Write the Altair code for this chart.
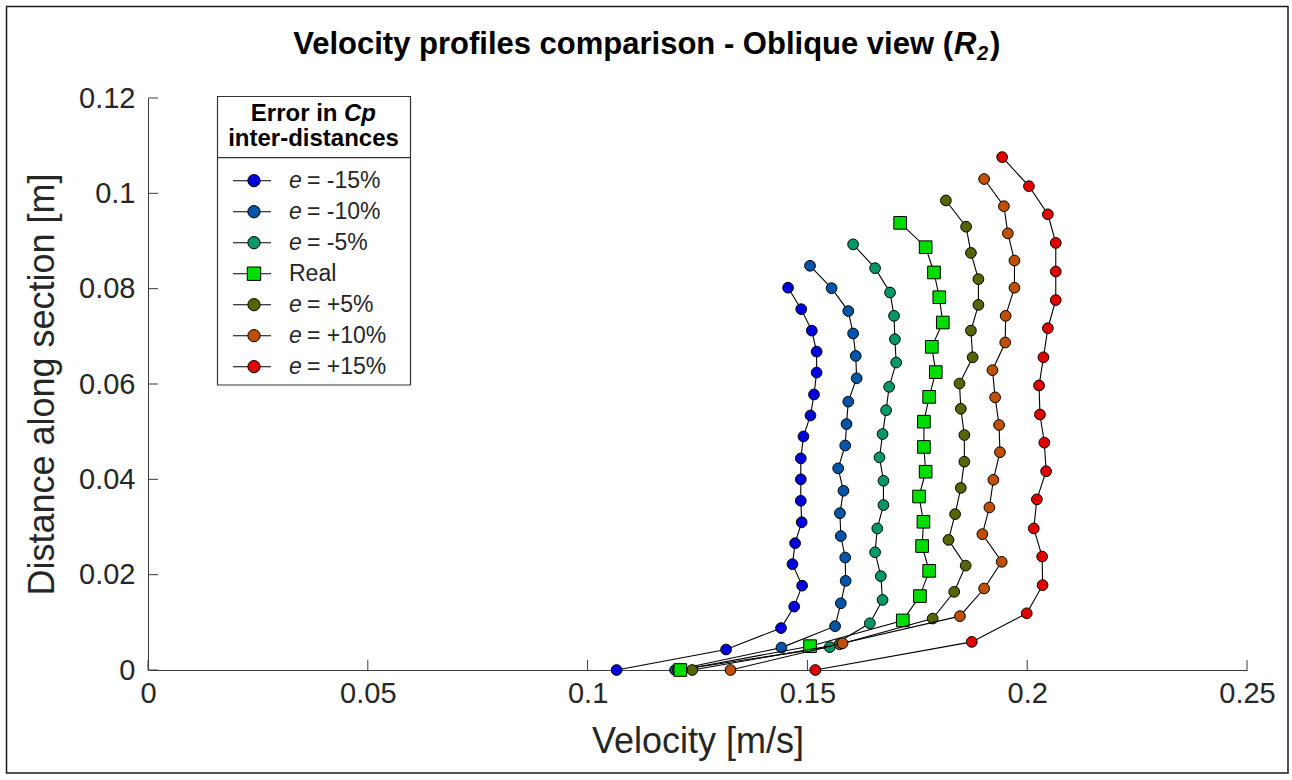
import altair as alt
import pandas as pd

# Series shown in the chart (legend order)
series_names = ["-15%", "-10%", "-5%", "Real", "+5%", "+10%", "+15%"]
legend_suffix = ["= -15%", "= -10%", "= -5%", "Real", "= +5%", "= +10%", "= +15%"]
series_colors = ["#0000dc", "#0055a8", "#009966", "#00dd00", "#556600", "#c05000", "#e00000"]
series_shapes = ["circle", "circle", "circle", "square", "circle", "circle", "circle"]

# Velocity [m/s] and distance along the section [m] for each profile
vel_m15 = [0.1066, 0.1315, 0.1440, 0.1470, 0.1488, 0.1466, 0.1472, 0.1487, 0.1485, 0.1485,
           0.1485, 0.1491, 0.1507, 0.1515, 0.1521, 0.1521, 0.1510, 0.1486, 0.1456]
dist_m15 = [0.0, 0.0043, 0.0088, 0.0133, 0.0177, 0.0222, 0.0266, 0.0310, 0.0355, 0.0400,
            0.0444, 0.0490, 0.0534, 0.0578, 0.0624, 0.0668, 0.0712, 0.0757, 0.0802]

vel_m10 = [0.1199, 0.1441, 0.1563, 0.1576, 0.1587, 0.1586, 0.1576, 0.1574, 0.1582, 0.1570,
           0.1586, 0.1589, 0.1593, 0.1612, 0.1610, 0.1604, 0.1593, 0.1555, 0.1506]
dist_m10 = [0.0, 0.0047, 0.0092, 0.0140, 0.0187, 0.0236, 0.0281, 0.0329, 0.0376, 0.0423,
            0.0471, 0.0516, 0.0563, 0.0612, 0.0659, 0.0706, 0.0753, 0.0801, 0.0848]

vel_m5 = [0.1205, 0.1551, 0.1642, 0.1671, 0.1667, 0.1654, 0.1659, 0.1673, 0.1673, 0.1664,
          0.1671, 0.1679, 0.1686, 0.1702, 0.1699, 0.1697, 0.1688, 0.1654, 0.1604]
dist_m5 = [0.0, 0.0048, 0.0098, 0.0147, 0.0197, 0.0247, 0.0297, 0.0346, 0.0397, 0.0446,
           0.0495, 0.0545, 0.0594, 0.0645, 0.0694, 0.0743, 0.0792, 0.0843, 0.0893]

vel_real = [0.1211, 0.1506, 0.1717, 0.1756, 0.1777, 0.1761, 0.1764, 0.1754, 0.1769, 0.1765,
            0.1765, 0.1777, 0.1792, 0.1783, 0.1808, 0.1800, 0.1788, 0.1769, 0.1711]
dist_real = [0.0, 0.0050, 0.0104, 0.0155, 0.0208, 0.0260, 0.0311, 0.0364, 0.0416, 0.0468,
             0.0521, 0.0573, 0.0625, 0.0678, 0.0729, 0.0782, 0.0834, 0.0887, 0.0938]

vel_p5 = [0.1238, 0.1573, 0.1785, 0.1834, 0.1860, 0.1821, 0.1836, 0.1849, 0.1857, 0.1857,
          0.1849, 0.1846, 0.1876, 0.1872, 0.1889, 0.1889, 0.1872, 0.1861, 0.1815]
dist_p5 = [0.0, 0.0054, 0.0108, 0.0164, 0.0219, 0.0273, 0.0327, 0.0382, 0.0437, 0.0493,
           0.0548, 0.0601, 0.0656, 0.0712, 0.0766, 0.0820, 0.0875, 0.0930, 0.0985]

vel_p10 = [0.1325, 0.1580, 0.1847, 0.1902, 0.1942, 0.1898, 0.1914, 0.1923, 0.1938, 0.1936,
           0.1927, 0.1921, 0.1950, 0.1951, 0.1971, 0.1971, 0.1956, 0.1947, 0.1902]
dist_p10 = [0.0, 0.0056, 0.0113, 0.0171, 0.0227, 0.0285, 0.0341, 0.0399, 0.0457, 0.0514,
            0.0572, 0.0629, 0.0687, 0.0743, 0.0802, 0.0859, 0.0916, 0.0973, 0.1030]

vel_p15 = [0.1518, 0.1874, 0.1999, 0.2035, 0.2034, 0.2015, 0.2022, 0.2043, 0.2039, 0.2029,
           0.2027, 0.2037, 0.2047, 0.2065, 0.2065, 0.2065, 0.2047, 0.2004, 0.1943]
dist_p15 = [0.0, 0.0059, 0.0119, 0.0178, 0.0238, 0.0297, 0.0358, 0.0417, 0.0477, 0.0536,
            0.0597, 0.0656, 0.0717, 0.0776, 0.0836, 0.0896, 0.0956, 0.1015, 0.1076]

x_ticks = [0, 0.05, 0.1, 0.15, 0.2, 0.25]
y_ticks = [0, 0.02, 0.04, 0.06, 0.08, 0.1, 0.12]

velocities = [vel_m15, vel_m10, vel_m5, vel_real, vel_p5, vel_p10, vel_p15]
distances = [dist_m15, dist_m10, dist_m5, dist_real, dist_p5, dist_p10, dist_p15]

rows = []
for name, vs, ds in zip(series_names, velocities, distances):
    for i, (v, d) in enumerate(zip(vs, ds)):
        rows.append({"series": name, "idx": i, "v": v, "d": d})
profiles = pd.DataFrame(rows)

FONT = "Liberation Sans"
W, H = 1099, 572
AXIS_GREY = "#3a3a3a"
TEXT = "#262626"

x_enc = alt.X("v:Q", scale=alt.Scale(domain=[0, 0.25], nice=False, zero=False),
              axis=alt.Axis(values=x_ticks, format="~g", title="Velocity [m/s]",
                            grid=False, ticks=False, tickSize=0, domainColor=AXIS_GREY,
                            domainWidth=1, labelFont=FONT, labelFontSize=29,
                            labelColor=TEXT, labelPadding=9, labelFlush=False,
                            titleFont=FONT, titleFontSize=36, titleFontWeight="normal",
                            titleColor=TEXT, titleY=82, titleBaseline="alphabetic"))
y_enc = alt.Y("d:Q", scale=alt.Scale(domain=[0, 0.12], nice=False, zero=False),
              axis=alt.Axis(values=y_ticks, format="~g", title="Distance along section [m]",
                            grid=False, ticks=False, tickSize=0, domainColor=AXIS_GREY,
                            domainWidth=1, labelFont=FONT, labelFontSize=29,
                            labelColor=TEXT, labelPadding=13, labelFlush=False,
                            titleFont=FONT, titleFontSize=36, titleFontWeight="normal",
                            titleColor=TEXT, titleX=-106, titleY=H / 2,
                            titleBaseline="middle", titleAngle=-90))

base = alt.Chart(profiles)
layers = []
for name, col, shp in zip(series_names, series_colors, series_shapes):
    sub = base.transform_filter(alt.datum.series == name)
    line = sub.mark_line(color="black", strokeWidth=1.1).encode(
        x=x_enc, y=y_enc, order="idx:Q")
    pts = sub.mark_point(shape=shp, filled=True, fill=col, stroke="black",
                         strokeWidth=1, opacity=1,
                         size=160 if shp == "square" else 115).encode(x=x_enc, y=y_enc)
    layers += [line, pts]

# Inward tick marks on both axes
xt = alt.Chart(pd.DataFrame({"t": x_ticks})).mark_rule(color=AXIS_GREY, strokeWidth=1).encode(
    x=alt.X("t:Q"), y=alt.value(H), y2=alt.value(H - 10))
yt = alt.Chart(pd.DataFrame({"t": y_ticks})).mark_rule(color=AXIS_GREY, strokeWidth=1).encode(
    y=alt.Y("t:Q"), x=alt.value(0), x2=alt.value(10))

one = pd.DataFrame({"k": [0]})

# Outer figure frame
frame = alt.Chart(one).mark_rect(filled=False, stroke="#1a1a1a", strokeWidth=1.5).encode(
    x=alt.value(-141.5), x2=alt.value(1140), y=alt.value(-91.5), y2=alt.value(675))

# Title with italic R and subscript 2
TS = 31
t_main = alt.Chart(one).mark_text(text="Velocity profiles comparison - Oblique view (",
                                  font=FONT, fontSize=TS, fontWeight="bold", align="right",
                                  baseline="alphabetic", color="black").encode(
    x=alt.value(805), y=alt.value(-44))
t_r = alt.Chart(one).mark_text(text="R", font=FONT, fontSize=TS, fontWeight="bold",
                               fontStyle="italic", align="left", baseline="alphabetic",
                               color="black").encode(x=alt.value(806), y=alt.value(-44))
t_sub = alt.Chart(one).mark_text(text="2", font=FONT, fontSize=20, fontWeight="bold",
                                 fontStyle="italic", align="left", baseline="alphabetic",
                                 color="black").encode(x=alt.value(829), y=alt.value(-38))
t_close = alt.Chart(one).mark_text(text=")", font=FONT, fontSize=TS, fontWeight="bold",
                                   align="left", baseline="alphabetic",
                                   color="black").encode(x=alt.value(842), y=alt.value(-44))

# Legend box
LX0, LX1, LY0, LY1 = 69.5, 262.5, -1.5, 287
leg_box = alt.Chart(one).mark_rect(fill="white", stroke="#333333", strokeWidth=1.2).encode(
    x=alt.value(LX0), x2=alt.value(LX1), y=alt.value(LY0), y2=alt.value(LY1))
leg_sep = alt.Chart(one).mark_rule(color="#333333", strokeWidth=1.2).encode(
    x=alt.value(LX0), x2=alt.value(LX1), y=alt.value(59.7))
lt1 = alt.Chart(one).mark_text(text="Error in", font=FONT, fontSize=24, fontWeight="bold",
                               align="right", baseline="alphabetic", color="black").encode(
    x=alt.value(189.5), y=alt.value(23))
lt2 = alt.Chart(one).mark_text(text="Cp", font=FONT, fontSize=24, fontWeight="bold",
                               fontStyle="italic", align="left", baseline="alphabetic",
                               color="black").encode(x=alt.value(196), y=alt.value(23))
lt3 = alt.Chart(one).mark_text(text="inter-distances", font=FONT, fontSize=24,
                               fontWeight="bold", align="center", baseline="alphabetic",
                               color="black").encode(x=alt.value(165.5), y=alt.value(48))

leg_layers = [leg_box, leg_sep, lt1, lt2, lt3]
for i, (suffix, col, shp) in enumerate(zip(legend_suffix, series_colors, series_shapes)):
    yy = 82.7 + i * 31.0
    leg_layers.append(alt.Chart(one).mark_rule(color="black", strokeWidth=1.1).encode(
        x=alt.value(85), x2=alt.value(123), y=alt.value(yy)))
    leg_layers.append(alt.Chart(one).mark_point(
        shape=shp, filled=True, fill=col, stroke="black", strokeWidth=1, opacity=1,
        size=180 if shp == "square" else 150).encode(x=alt.value(106), y=alt.value(yy)))
    if suffix == "Real":
        leg_layers.append(alt.Chart(one).mark_text(
            text="Real", font=FONT, fontSize=23, align="left", baseline="middle",
            color=TEXT).encode(x=alt.value(141), y=alt.value(yy)))
    else:
        leg_layers.append(alt.Chart(one).mark_text(
            text="e", font=FONT, fontSize=23, fontStyle="italic", align="left",
            baseline="middle", color=TEXT).encode(x=alt.value(141), y=alt.value(yy)))
        leg_layers.append(alt.Chart(one).mark_text(
            text=suffix, font=FONT, fontSize=23, align="left", baseline="middle",
            color=TEXT).encode(x=alt.value(159), y=alt.value(yy)))

chart = alt.layer(
    *layers, xt, yt, frame, t_main, t_r, t_sub, t_close, *leg_layers
).properties(
    width=W, height=H, autosize="none",
    padding={"left": 148, "top": 98, "right": 45, "bottom": 110},
    background="white",
).configure_view(stroke=None)

chart.save("out.html", embed_options={"renderer": "svg", "actions": False})
